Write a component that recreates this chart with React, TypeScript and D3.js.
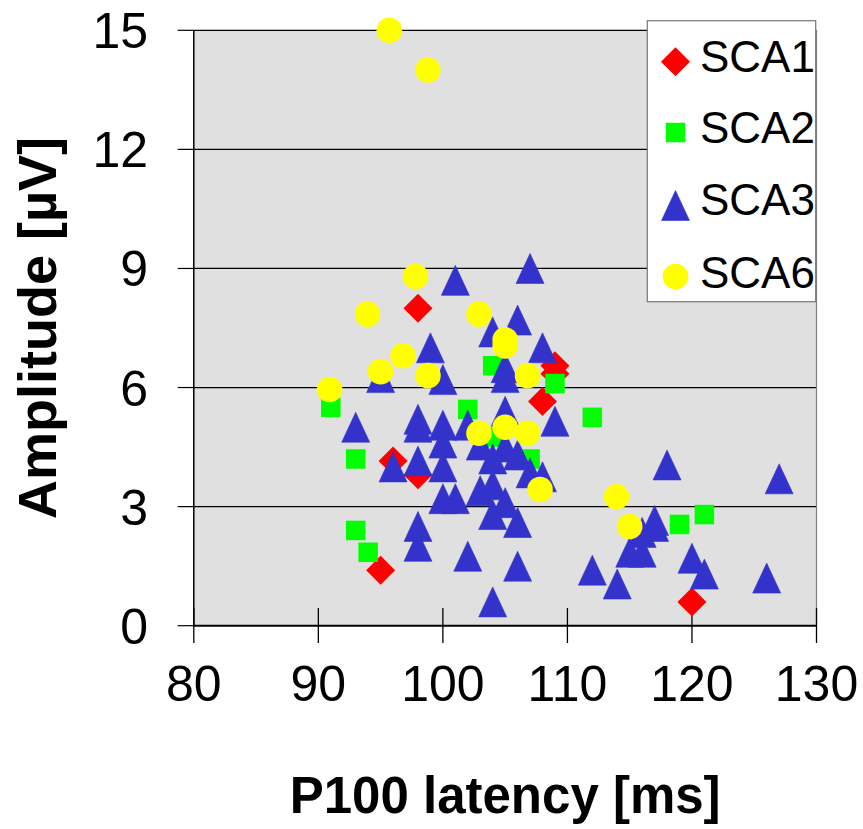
import React from "react";
import * as d3 from "d3";

// ---- Data ----
const sca1X = [98, 109, 109, 108, 96, 98, 95, 120];
const sca1Y = [8.0, 6.55, 6.35, 5.65, 4.15, 3.8, 1.4, 0.6];

const sca2X = [91, 93, 93, 94, 102, 104, 109, 112, 107, 104, 119, 121];
const sca2Y = [5.5, 4.2, 2.4, 1.85, 5.45, 6.55, 6.1, 5.25, 4.2, 4.75, 2.55, 2.8];

const sca3X = [
  101, 107, 106, 104, 108, 99, 95, 100, 105, 105, 109, 105, 93, 98, 98, 100, 100, 100,
  102, 96, 98, 100, 101, 98, 98, 102, 106, 104, 103, 104, 103, 104, 105, 104, 106, 107,
  108, 105, 106, 118, 127, 117, 117, 116, 115, 116, 112, 114, 120, 121, 126,
];
const sca3Y = [
  8.7, 9.0, 7.7, 7.4, 7.0, 7.0, 6.25, 6.2, 6.5, 6.25, 5.15, 5.4, 5.0, 5.2, 5.0, 5.05, 4.6, 4.0,
  5.05, 4.0, 4.15, 3.2, 3.2, 2.5, 2.0, 1.75, 1.5, 0.6, 4.55, 4.2, 3.4, 3.55, 3.1, 2.8, 2.6, 3.85,
  3.75, 4.5, 4.3, 4.05, 3.7, 2.65, 2.5, 2.35, 1.85, 1.85, 1.4, 1.05, 1.7, 1.3, 1.2,
];

const sca6X = [95.7, 98.8, 97.8, 93.95, 102.9, 105, 105, 96.8, 95, 98.8, 90.9, 106.8, 102.9, 105, 106.8, 107.8, 113.95, 115];
const sca6Y = [15.0, 14.0, 8.8, 7.85, 7.85, 7.2, 7.05, 6.8, 6.4, 6.3, 5.95, 6.3, 4.85, 5.0, 4.85, 3.43, 3.25, 2.5];

const seriesNames = ["SCA1", "SCA2", "SCA3", "SCA6"];
const seriesColors = ["#ff0000", "#00ff00", "#3333cc", "#ffff00"];

const xTicks = [80, 90, 100, 110, 120, 130];
const yTicks = [0, 3, 6, 9, 12, 15];

const xTitle = "P100 latency [ms]";
const yTitle = "Amplitude [µV]";

// ---- Layout ----
const W = 863;
const H = 829;
const left = 193.8;
const right = 816.5;
const top = 30.3;
const bottom = 625.7;
const FONT = "'Liberation Sans', Arial, Helvetica, sans-serif";

const x = d3.scaleLinear().domain([80, 130]).range([left, right]);
const y = d3.scaleLinear().domain([0, 15]).range([bottom, top]);

function Marker({ kind, cx, cy, color }: { kind: number; cx: number; cy: number; color: string }) {
  if (kind === 0) {
    const s = 14.5;
    return <path d={`M${cx},${cy - s}L${cx + s},${cy}L${cx},${cy + s}L${cx - s},${cy}Z`} fill={color} />;
  }
  if (kind === 1) {
    const s = 9.75;
    return <rect x={cx - s} y={cy - s} width={2 * s} height={2 * s} fill={color} />;
  }
  if (kind === 2) {
    return (
      <path
        d={`M${cx},${cy - 15}L${cx + 14},${cy + 15}L${cx - 14},${cy + 15}Z`}
        fill={color}
        stroke={color}
        strokeWidth={0.6}
        strokeLinejoin="round"
      />
    );
  }
  return <circle cx={cx} cy={cy} r={12.8} fill={color} />;
}

export default function App() {
  const series = [
    { xs: sca1X, ys: sca1Y },
    { xs: sca2X, ys: sca2Y },
    { xs: sca3X, ys: sca3Y },
    { xs: sca6X, ys: sca6Y },
  ];
  const legendRows = [61.7, 132.5, 205.5, 276.5];
  const legendBase = [71.7, 143.3, 215.3, 288];
  return (
    <div style={{ position: "absolute", left: 0, top: 0 }}>
      <svg width={W} height={H} style={{ display: "block", background: "#fff" }}>
        <rect x={left} y={top} width={right - left} height={bottom - top} fill="#e0e0e0" />
        {/* gridlines */}
        {yTicks.filter((t) => t > 0).map((t) => (
          <line key={"g" + t} x1={left} x2={right} y1={y(t)} y2={y(t)} stroke="#000" strokeWidth={1.2} />
        ))}
        {/* right border */}
        <line x1={right} x2={right} y1={top} y2={bottom} stroke="#808080" strokeWidth={1.2} />
        {/* y ticks */}
        {yTicks.map((t) => (
          <line key={"yt" + t} x1={177.7} x2={left} y1={y(t)} y2={y(t)} stroke="#000" strokeWidth={1.2} />
        ))}
        {/* x ticks */}
        {xTicks.map((t) => (
          <line key={"xt" + t} x1={x(t)} x2={x(t)} y1={608} y2={643} stroke="#000" strokeWidth={1.3} />
        ))}
        {/* axes */}
        <line x1={left} x2={left} y1={top} y2={bottom} stroke="#000" strokeWidth={1.5} />
        <line x1={left} x2={right} y1={bottom} y2={bottom} stroke="#000" strokeWidth={2} />

        {/* markers */}
        {series.map((s, si) => (
          <g key={"s" + si}>
            {s.xs.map((xv, i) => (
              <Marker key={i} kind={si} cx={x(xv)} cy={y(s.ys[i])} color={seriesColors[si]} />
            ))}
          </g>
        ))}

        {/* tick labels */}
        {yTicks.map((t) => (
          <text key={"yl" + t} x={148} y={y(t) + 18} textAnchor="end" fontFamily={FONT} fontSize={50} fill="#000">
            {t}
          </text>
        ))}
        {xTicks.map((t) => (
          <text key={"xl" + t} x={x(t)} y={701} textAnchor="middle" fontFamily={FONT} fontSize={50} fill="#000">
            {t}
          </text>
        ))}

        {/* axis titles */}
        <text x={(left + right) / 2} y={813} textAnchor="middle" fontFamily={FONT} fontWeight="bold" fontSize={51} fill="#000">
          {xTitle}
        </text>
        <text
          transform={`translate(56,${(top + bottom) / 2}) rotate(-90)`}
          textAnchor="middle"
          fontFamily={FONT}
          fontWeight="bold"
          fontSize={54}
          fill="#000"
        >
          {yTitle}
        </text>

        {/* legend */}
        <rect x={647.3} y={20.7} width={168.4} height={281} fill="#fff" stroke="#777" strokeWidth={1.2} />
        {seriesNames.map((n, i) => (
          <g key={n}>
            <Marker kind={i} cx={675.5} cy={legendRows[i]} color={seriesColors[i]} />
            <text x={700} y={legendBase[i]} fontFamily={FONT} fontSize={44} fill="#000">
              {n}
            </text>
          </g>
        ))}
      </svg>
    </div>
  );
}
